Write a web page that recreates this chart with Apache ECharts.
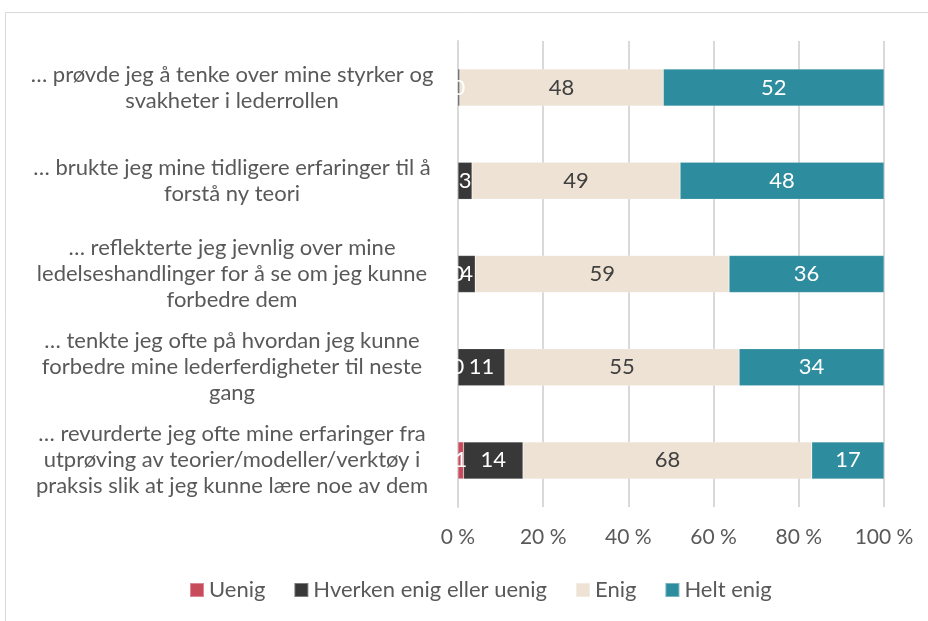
<!DOCTYPE html>
<html>
<head>
<meta charset="utf-8">
<script src="https://cdn.jsdelivr.net/npm/echarts@6/dist/echarts.min.js"></script>
<style>
html,body{margin:0;padding:0;background:#fff;}
#chart{width:928px;height:621px;}
</style>
</head>
<body>
<div id="chart"></div>
<script>
const categories = [
  "… prøvde jeg å tenke over mine styrker og\nsvakheter i lederrollen",
  "… brukte jeg mine tidligere erfaringer til å\nforstå ny teori",
  "… reflekterte jeg jevnlig over mine\nledelseshandlinger for å se om jeg kunne\nforbedre dem",
  "… tenkte jeg ofte på hvordan jeg kunne\nforbedre mine lederferdigheter til neste\ngang",
  "… revurderte jeg ofte mine erfaringer fra\nutprøving av teorier/modeller/verktøy i\npraksis slik at jeg kunne lære noe av dem"
];
const seriesNames = ["Uenig", "Hverken enig eller uenig", "Enig", "Helt enig"];
const uenig   = [null, null, 0, 0, 1.3];
const hverken = [0.4, 3.3, 4, 11, 14];
const enig    = [48, 49, 59, 55, 68];
const heltEnig= [52, 48, 36, 34, 17];
const tickLabels = ["0 %", "20 %", "40 %", "60 %", "80 %", "100 %"];

const colors = ["#C84B5B", "#383838", "#EDE2D4", "#2D8C9D"];
const labelColors = ["#ffffff", "#ffffff", "#404040", "#ffffff"];
const raw = [uenig, hverken, enig, heltEnig];
const totals = categories.map((c, i) => raw.reduce((s, arr) => s + (arr[i] || 0), 0));

const FONT = "Lato";
const chart = echarts.init(document.getElementById('chart'));
chart.setOption({
  animation: false,
  textStyle: {fontFamily: FONT},
  graphic: [{
    type: 'rect', z: -10,
    shape: {x: 5.5, y: 12.5, width: 1000, height: 1000},
    style: {fill: 'none', stroke: '#d9d9d9', lineWidth: 1}
  }],
  legend: {
    data: seriesNames,
    top: 579,
    left: 189,
    padding: 0,
    itemWidth: 14, itemHeight: 14, itemGap: 28,
    icon: 'rect',
    textStyle: {fontSize: 22, color: '#595959', fontFamily: FONT}
  },
  grid: {left: 458, right: 44, top: 41, bottom: 114},
  xAxis: {
    type: 'value', min: 0, max: 100, interval: 20,
    axisLine: {show: false}, axisTick: {show: false},
    splitLine: {lineStyle: {color: '#d9d9d9', width: 2}},
    axisLabel: {
      fontSize: 21, color: '#595959', margin: 20, fontFamily: FONT,
      formatter: v => tickLabels[Math.round(v / 20)]
    }
  },
  yAxis: {
    type: 'category', data: categories, inverse: true,
    axisLine: {show: true, lineStyle: {color: '#d9d9d9', width: 2}},
    axisTick: {show: false},
    axisLabel: {
      fontSize: 22, color: '#595959', lineHeight: 26, align: 'center',
      margin: 226, fontFamily: FONT
    }
  },
  series: raw.map((arr, k) => ({
    name: seriesNames[k],
    type: 'bar',
    stack: 'total',
    barWidth: 37,
    itemStyle: {color: colors[k], borderColor: 'rgba(255,255,255,0.35)', borderWidth: 0.5},
    label: {
      show: true, position: 'inside', fontSize: 22, color: labelColors[k], fontFamily: FONT,
      formatter: p => String(Math.round(arr[p.dataIndex]))
    },
    data: arr.map((v, i) => v === null ? null : v / totals[i] * 100)
  }))
});
</script>
</body>
</html>
